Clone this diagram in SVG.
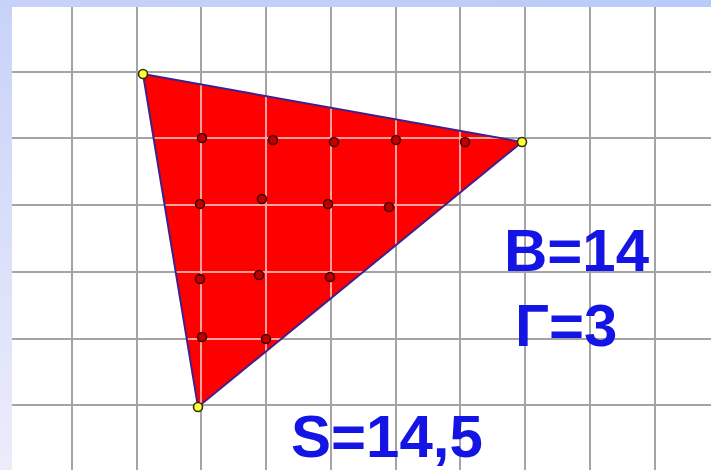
<svg xmlns="http://www.w3.org/2000/svg" width="711" height="470" viewBox="0 0 711 470">
<defs>
<linearGradient id="bg" x1="0" y1="0" x2="1" y2="1">
<stop offset="0" stop-color="#c8d2f8"/>
<stop offset="0.5" stop-color="#b8cbf8"/>
<stop offset="1" stop-color="#e6e8fa"/>
</linearGradient>
<linearGradient id="lb" x1="0" y1="0" x2="0" y2="1">
<stop offset="0" stop-color="#c8d2f8"/>
<stop offset="1" stop-color="#ececfa"/>
</linearGradient>
<clipPath id="tri"><polygon points="143,74 522,142 198,407"/></clipPath>
<style>
.g{stroke:#a4a4a4;stroke-width:2}
.gp{stroke:#ffa0a0;stroke-width:2}
.v{fill:#ffff3c;stroke:#303000;stroke-width:1.6}
.p{fill:#c00000;stroke:#400000;stroke-width:1.6}
.t{font-family:"Liberation Sans",Arial,sans-serif;font-weight:bold;font-size:60px;fill:#1414e4}
</style>
</defs>
<rect width="711" height="470" fill="url(#bg)"/>
<rect width="12" height="470" fill="url(#lb)"/>
<rect x="12" y="7" width="699" height="463" fill="#ffffff"/>
<g id="grid" class="g">
<line x1="72" y1="7" x2="72" y2="470"/>
<line x1="137" y1="7" x2="137" y2="470"/>
<line x1="201" y1="7" x2="201" y2="470"/>
<line x1="266" y1="7" x2="266" y2="470"/>
<line x1="331" y1="7" x2="331" y2="470"/>
<line x1="396" y1="7" x2="396" y2="470"/>
<line x1="460" y1="7" x2="460" y2="470"/>
<line x1="525" y1="7" x2="525" y2="470"/>
<line x1="590" y1="7" x2="590" y2="470"/>
<line x1="655" y1="7" x2="655" y2="470"/>
<line x1="12" y1="72" x2="711" y2="72"/>
<line x1="12" y1="138" x2="711" y2="138"/>
<line x1="12" y1="205" x2="711" y2="205"/>
<line x1="12" y1="272" x2="711" y2="272"/>
<line x1="12" y1="339" x2="711" y2="339"/>
<line x1="12" y1="405" x2="711" y2="405"/>
</g>
<g id="triangle">
<polygon points="143,74 522,142 198,407" fill="#ff0000"/>
<g clip-path="url(#tri)" class="gp">
<line x1="201" y1="7" x2="201" y2="470"/>
<line x1="266" y1="7" x2="266" y2="470"/>
<line x1="331" y1="7" x2="331" y2="470"/>
<line x1="396" y1="7" x2="396" y2="470"/>
<line x1="460" y1="7" x2="460" y2="470"/>
<line x1="12" y1="138" x2="711" y2="138"/>
<line x1="12" y1="205" x2="711" y2="205"/>
<line x1="12" y1="272" x2="711" y2="272"/>
<line x1="12" y1="339" x2="711" y2="339"/>
</g>
<polygon points="143,74 522,142 198,407" fill="none" stroke="#40208a" stroke-width="2"/>
</g>
<g id="interior-points">
<circle class="p" cx="202" cy="138" r="4.5"/>
<circle class="p" cx="273" cy="140" r="4.5"/>
<circle class="p" cx="334" cy="142" r="4.5"/>
<circle class="p" cx="396" cy="140" r="4.5"/>
<circle class="p" cx="465" cy="142" r="4.5"/>
<circle class="p" cx="200" cy="204" r="4.5"/>
<circle class="p" cx="262" cy="199" r="4.5"/>
<circle class="p" cx="328" cy="204" r="4.5"/>
<circle class="p" cx="389" cy="207" r="4.5"/>
<circle class="p" cx="200" cy="279" r="4.5"/>
<circle class="p" cx="259" cy="275" r="4.5"/>
<circle class="p" cx="330" cy="277" r="4.5"/>
<circle class="p" cx="202" cy="337" r="4.5"/>
<circle class="p" cx="266" cy="339" r="4.5"/>
</g>
<g id="vertices">
<circle class="v" cx="143" cy="74" r="4.5"/>
<circle class="v" cx="522" cy="142" r="4.5"/>
<circle class="v" cx="198" cy="407" r="4.5"/>
</g>
<g id="labels">
<text class="t" x="504" y="271">В=14</text>
<text class="t" x="515" y="346">Г=3</text>
<text class="t" x="291" y="457">S=14,5</text>
</g>
</svg>
